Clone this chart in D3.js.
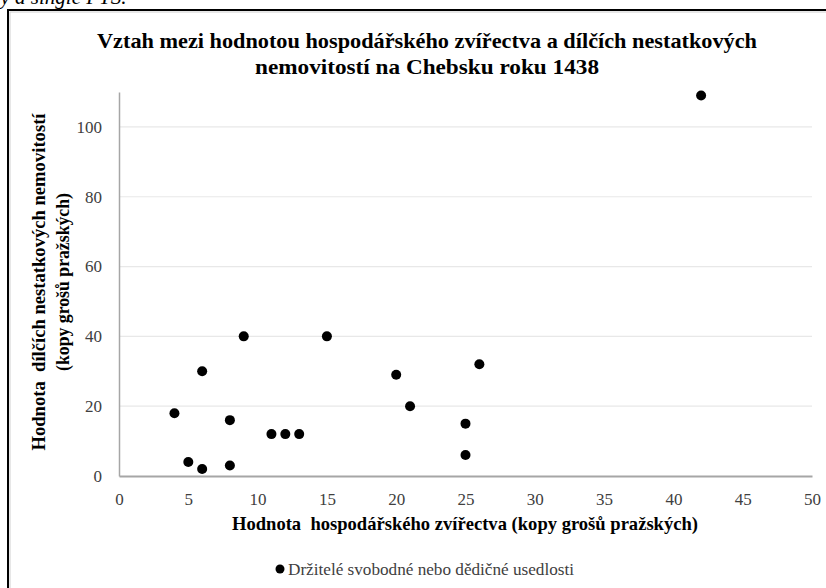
<!DOCTYPE html>
<html>
<head>
<meta charset="utf-8">
<script src="https://cdn.jsdelivr.net/npm/d3@7"></script>
<style>
  body { margin: 0; background: #fff; }
  text { font-family: "Liberation Serif", "Times New Roman", serif; white-space: pre; }
</style>
</head>
<body>
<script>
// hodnota zvirectva (x) a nestatkovych nemovitosti (y), kopy grosu prazskych
const livestock = [4, 5, 6, 6, 8, 8, 9, 11, 12, 13, 15, 20, 21, 25, 25, 26, 42];
const property  = [18, 4, 2, 30, 16, 3, 40, 12, 12, 12, 40, 29, 20, 15, 6, 32, 109];
const xTicks = [0, 5, 10, 15, 20, 25, 30, 35, 40, 45, 50];
const yTicks = [0, 20, 40, 60, 80, 100];
const titleLines = ["Vztah mezi hodnotou hospodářského zvířectva a dílčích nestatkových",
                    "nemovitostí na Chebsku roku 1438"];
const xTitle = "Hodnota  hospodářského zvířectva (kopy grošů pražských)";
const yTitleLines = ["Hodnota  dílčích nestatkových nemovitostí", "(kopy grošů pražských)"];
const legendLabel = "Držitelé svobodné nebo dědičné usedlosti";

const w = 826;
const h = 588;

const svg = d3.select("body")
    .append("svg")
    .attr("width", w)
    .attr("height", h);

// text of the page above the chart, cut off by the crop
svg.append("text")
    .attr("x", -10)
    .attr("y", 4)
    .style("font-style", "italic")
    .style("font-size", "21px")
    .text("by a single PTS.");

// chart frame
svg.append("rect")
    .attr("x", 8).attr("y", 10)
    .attr("width", 840).attr("height", 600)
    .attr("fill", "#fff")
    .attr("stroke", "#000")
    .attr("stroke-width", 2);
svg.append("rect")
    .attr("x", 10).attr("y", 12)
    .attr("width", 840).attr("height", 600)
    .attr("fill", "none")
    .attr("stroke", "#d0d0d0")
    .attr("stroke-width", 1);

const xScale = d3.scaleLinear().domain([0, 50]).range([119, 812]);
const yScale = d3.scaleLinear().domain([0, 110]).range([476, 92]);

// gridlines
svg.append("g")
    .selectAll("line")
    .data(yTicks.filter(d => d > 0))
    .enter()
    .append("line")
    .attr("x1", xScale(0))
    .attr("x2", xScale(50))
    .attr("y1", d => yScale(d))
    .attr("y2", d => yScale(d))
    .attr("stroke", "#e8e8e8")
    .attr("stroke-width", 1.2);

const xAxis = svg.append("g")
    .attr("transform", `translate(0,${yScale(0)})`)
    .call(d3.axisBottom(xScale).tickValues(xTicks).tickSize(0).tickPadding(17));
const yAxis = svg.append("g")
    .attr("transform", `translate(${xScale(0)},0)`)
    .call(d3.axisLeft(yScale).tickValues(yTicks).tickSize(0).tickPadding(17));

xAxis.select(".domain").attr("stroke", "#a6a6a6").attr("stroke-width", 2);
yAxis.select(".domain").attr("stroke", "#a6a6a6").attr("stroke-width", 1.5);
svg.selectAll(".tick text")
    .attr("fill", "#404040")
    .style("font-family", "'Liberation Serif', serif")
    .style("font-size", "17px");

// points
svg.append("g")
    .selectAll("circle")
    .data(livestock.map((v, i) => [v, property[i]]))
    .enter()
    .append("circle")
    .attr("cx", d => xScale(d[0]))
    .attr("cy", d => yScale(d[1]))
    .attr("r", 5)
    .attr("fill", "#000");

// title
svg.append("g")
    .selectAll("text")
    .data(titleLines)
    .enter()
    .append("text")
    .attr("x", 427)
    .attr("y", (d, i) => 48 + i * 26)
    .attr("text-anchor", "middle")
    .attr("textLength", (d, i) => i === 0 ? 660 : 344)
    .attr("lengthAdjust", "spacingAndGlyphs")
    .style("font-weight", "bold")
    .style("font-size", "21px")
    .text(d => d);

// axis titles
svg.append("text")
    .attr("x", 465)
    .attr("y", 530)
    .attr("text-anchor", "middle")
    .attr("textLength", 466)
    .attr("lengthAdjust", "spacingAndGlyphs")
    .style("font-weight", "bold")
    .style("font-size", "19px")
    .text(xTitle);

svg.append("g")
    .selectAll("text")
    .data(yTitleLines)
    .enter()
    .append("text")
    .attr("transform", (d, i) => `translate(${45 + i * 24},282) rotate(-90)`)
    .attr("text-anchor", "middle")
    .attr("textLength", (d, i) => i === 0 ? 337 : 178)
    .attr("lengthAdjust", "spacingAndGlyphs")
    .style("font-weight", "bold")
    .style("font-size", "19px")
    .text(d => d);

// legend
svg.append("circle")
    .attr("cx", 280)
    .attr("cy", 569)
    .attr("r", 4.5)
    .attr("fill", "#000");
svg.append("text")
    .attr("x", 288)
    .attr("y", 575)
    .attr("fill", "#404040")
    .attr("textLength", 286)
    .attr("lengthAdjust", "spacingAndGlyphs")
    .style("font-size", "16px")
    .text(legendLabel);
</script>
</body>
</html>
